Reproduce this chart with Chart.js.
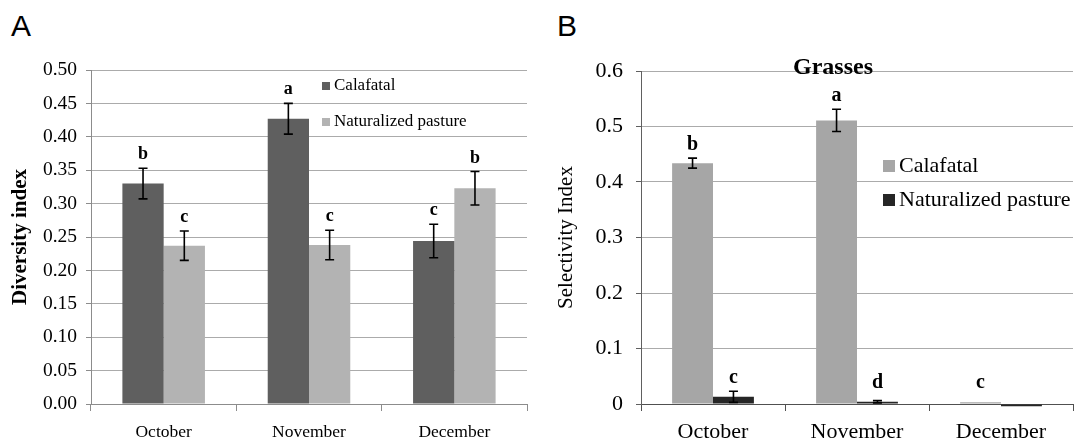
<!DOCTYPE html>
<html><head><meta charset="utf-8">
<script src="https://cdn.jsdelivr.net/npm/chart.js@4/dist/chart.umd.min.js"></script>
<style>
html,body{margin:0;padding:0;background:#fff;}
body{width:1075px;height:440px;position:relative;overflow:hidden;}
canvas{position:absolute;top:0;}
#ca{left:0;}
#cb{left:537px;}
.lab{position:absolute;top:8px;font-family:"Liberation Sans",Arial,sans-serif;font-size:30px;line-height:36px;color:#000;}
</style></head><body>
<div class="lab" style="left:11px">A</div>
<div class="lab" style="left:557px">B</div>
<canvas id="ca" width="537" height="440"></canvas>
<canvas id="cb" width="538" height="440"></canvas>
<script>
// ---------- data ----------
const categories = ['October', 'November', 'December'];
const seriesNames = ['Calafatal', 'Naturalized pasture'];

const diversityCalafatal = [0.330, 0.427, 0.244];
const diversityCalafatalErr = [0.023, 0.023, 0.025];
const diversityPasture = [0.237, 0.238, 0.323];
const diversityPastureErr = [0.022, 0.022, 0.025];
const diversityLettersCalafatal = ['b', 'a', 'c'];
const diversityLettersPasture = ['c', 'c', 'b'];
const diversityTicks = ['0.00','0.05','0.10','0.15','0.20','0.25','0.30','0.35','0.40','0.45','0.50'];

const selectivityCalafatal = [0.434, 0.511, 0.003];
const selectivityCalafatalErr = [0.009, 0.020, 0];
const selectivityPasture = [0.013, 0.004, -0.004];
const selectivityPastureErr = [0.010, 0.002, 0];
const selectivityLettersCalafatal = ['b', 'a', 'c'];
const selectivityLettersPasture = ['c', 'd', ''];
const selectivityTicks = ['0','0.1','0.2','0.3','0.4','0.5','0.6'];

const SERIF = '"Liberation Serif", "Times New Roman", serif';

// ---------- plugins ----------
const annotate = {
  id: 'annotate',
  afterDatasetsDraw(chart, args, o) {
    const ctx = chart.ctx, ys = chart.scales.y;
    ctx.save();
    chart.data.datasets.forEach((ds, i) => {
      const meta = chart.getDatasetMeta(i);
      meta.data.forEach((bar, j) => {
        const v = ds.data[j], e = ds.errors[j], x = bar.x;
        if (e > 0) {
          const y1 = ys.getPixelForValue(v + e), y2 = ys.getPixelForValue(v - e);
          ctx.strokeStyle = '#000'; ctx.lineWidth = o.errWidth;
          ctx.beginPath();
          ctx.moveTo(x, y1); ctx.lineTo(x, y2);
          ctx.moveTo(x - o.cap, y1); ctx.lineTo(x + o.cap, y1);
          ctx.moveTo(x - o.cap, y2); ctx.lineTo(x + o.cap, y2);
          ctx.stroke();
        }
        const L = ds.letters[j];
        if (L) {
          const top = Math.max(v + e, o.floor);
          ctx.fillStyle = '#000';
          ctx.font = o.font;
          ctx.textAlign = 'center'; ctx.textBaseline = 'alphabetic';
          ctx.fillText(L, x, ys.getPixelForValue(top) - o.gap);
        }
      });
    });
    ctx.restore();
  }
};

const boxLegend = {
  id: 'boxLegend',
  afterDraw(chart, args, o) {
    const ctx = chart.ctx;
    ctx.save();
    ctx.font = o.font; ctx.textBaseline = 'middle'; ctx.textAlign = 'left';
    chart.data.datasets.forEach((ds, i) => {
      const cy = o.y + i * o.step;
      ctx.fillStyle = ds.backgroundColor;
      ctx.fillRect(o.x, cy - o.box / 2, o.box, o.box);
      ctx.fillStyle = '#000';
      ctx.fillText(ds.label, o.x + o.box + o.gap, cy);
    });
    ctx.restore();
  }
};

const panelTitle = {
  id: 'panelTitle',
  afterDraw(chart, args, o) {
    if (!o.text) return;
    const ctx = chart.ctx;
    ctx.save();
    ctx.font = o.font; ctx.fillStyle = '#000';
    ctx.textAlign = 'center'; ctx.textBaseline = 'middle';
    ctx.fillText(o.text, o.x, o.y);
    ctx.restore();
  }
};

function makeChart(id, cfg) {
  return new Chart(document.getElementById(id), {
    type: 'bar',
    data: {
      labels: categories,
      datasets: [
        { label: seriesNames[0], data: cfg.s1, errors: cfg.e1, letters: cfg.l1,
          backgroundColor: cfg.c1, borderWidth: 0, clip: false },
        { label: seriesNames[1], data: cfg.s2, errors: cfg.e2, letters: cfg.l2,
          backgroundColor: cfg.c2, borderWidth: 0, clip: false }
      ]
    },
    options: {
      responsive: false, animation: false, devicePixelRatio: 1,
      categoryPercentage: 0.568, barPercentage: 1,
      layout: { padding: { left: 0, right: cfg.padRight, top: cfg.padTop, bottom: 0 } },
      plugins: {
        legend: { display: false }, tooltip: { enabled: false }, title: { display: false },
        annotate: cfg.ann, boxLegend: cfg.leg, panelTitle: cfg.title || {}
      },
      scales: {
        x: {
          afterFit(s) { s.height = 36; },
          grid: { drawOnChartArea: false, drawTicks: true, tickLength: 7, color: cfg.axisColor, lineWidth: 1 },
          border: { color: cfg.axisColor, width: 1 },
          ticks: { color: '#000', font: { family: SERIF, size: cfg.xFont }, padding: cfg.xPad, maxRotation: 0 }
        },
        y: {
          min: cfg.min, max: cfg.max,
          afterFit(s) { s.width = cfg.yWidth; },
          afterBuildTicks(s) { s.ticks = cfg.ticks.map(t => ({ value: parseFloat(t) })); },
          grid: { color: '#ababab', lineWidth: 1, drawTicks: true, tickLength: 5, tickColor: cfg.yAxisColor },
          border: { color: cfg.yAxisColor, width: 1 },
          ticks: { color: '#000', font: { family: SERIF, size: cfg.yFont }, padding: cfg.yPad,
                   callback: (v, i) => cfg.ticks[i] },
          title: { display: true, text: cfg.yTitle, color: '#000',
                   font: { family: SERIF, size: 21, weight: cfg.yTitleWeight },
                   padding: { top: cfg.yTitlePad, bottom: 0 } }
        }
      }
    },
    plugins: [annotate, boxLegend, panelTitle]
  });
}

makeChart('ca', {
  s1: diversityCalafatal, e1: diversityCalafatalErr, l1: diversityLettersCalafatal,
  s2: diversityPasture, e2: diversityPastureErr, l2: diversityLettersPasture,
  c1: '#5f5f5f', c2: '#b3b3b3',
  min: 0, max: 0.5, ticks: diversityTicks,
  padRight: 10, padTop: 70, yWidth: 91,
  axisColor: '#8c8c8c', yAxisColor: '#8c8c8c',
  xFont: 17.5, xPad: 11, yFont: 19.5, yPad: 9,
  yTitle: 'Diversity index', yTitleWeight: 'bold', yTitlePad: 8,
  ann: { errWidth: 1.6, cap: 4.5, font: 'bold 18px ' + SERIF, gap: 9, floor: 0 },
  leg: { x: 322, y: 86, step: 36, box: 8, gap: 4, font: '17px ' + SERIF }
});

makeChart('cb', {
  s1: selectivityCalafatal, e1: selectivityCalafatalErr, l1: selectivityLettersCalafatal,
  s2: selectivityPasture, e2: selectivityPastureErr, l2: selectivityLettersPasture,
  c1: '#a6a6a6', c2: '#262626',
  min: 0, max: 0.6, ticks: selectivityTicks,
  padRight: 2, padTop: 71, yWidth: 104,
  axisColor: '#505050', yAxisColor: '#606060',
  xFont: 22, xPad: 8, yFont: 22, yPad: 13,
  yTitle: 'Selectivity Index', yTitleWeight: 'normal', yTitlePad: 17,
  ann: { errWidth: 1.6, cap: 4.5, font: 'bold 20px ' + SERIF, gap: 8, floor: 0.015 },
  leg: { x: 346, y: 166, step: 34, box: 12, gap: 4, font: '22px ' + SERIF },
  title: { text: 'Grasses', x: 296, y: 68, font: 'bold 24px ' + SERIF }
});
</script>
</body></html>
